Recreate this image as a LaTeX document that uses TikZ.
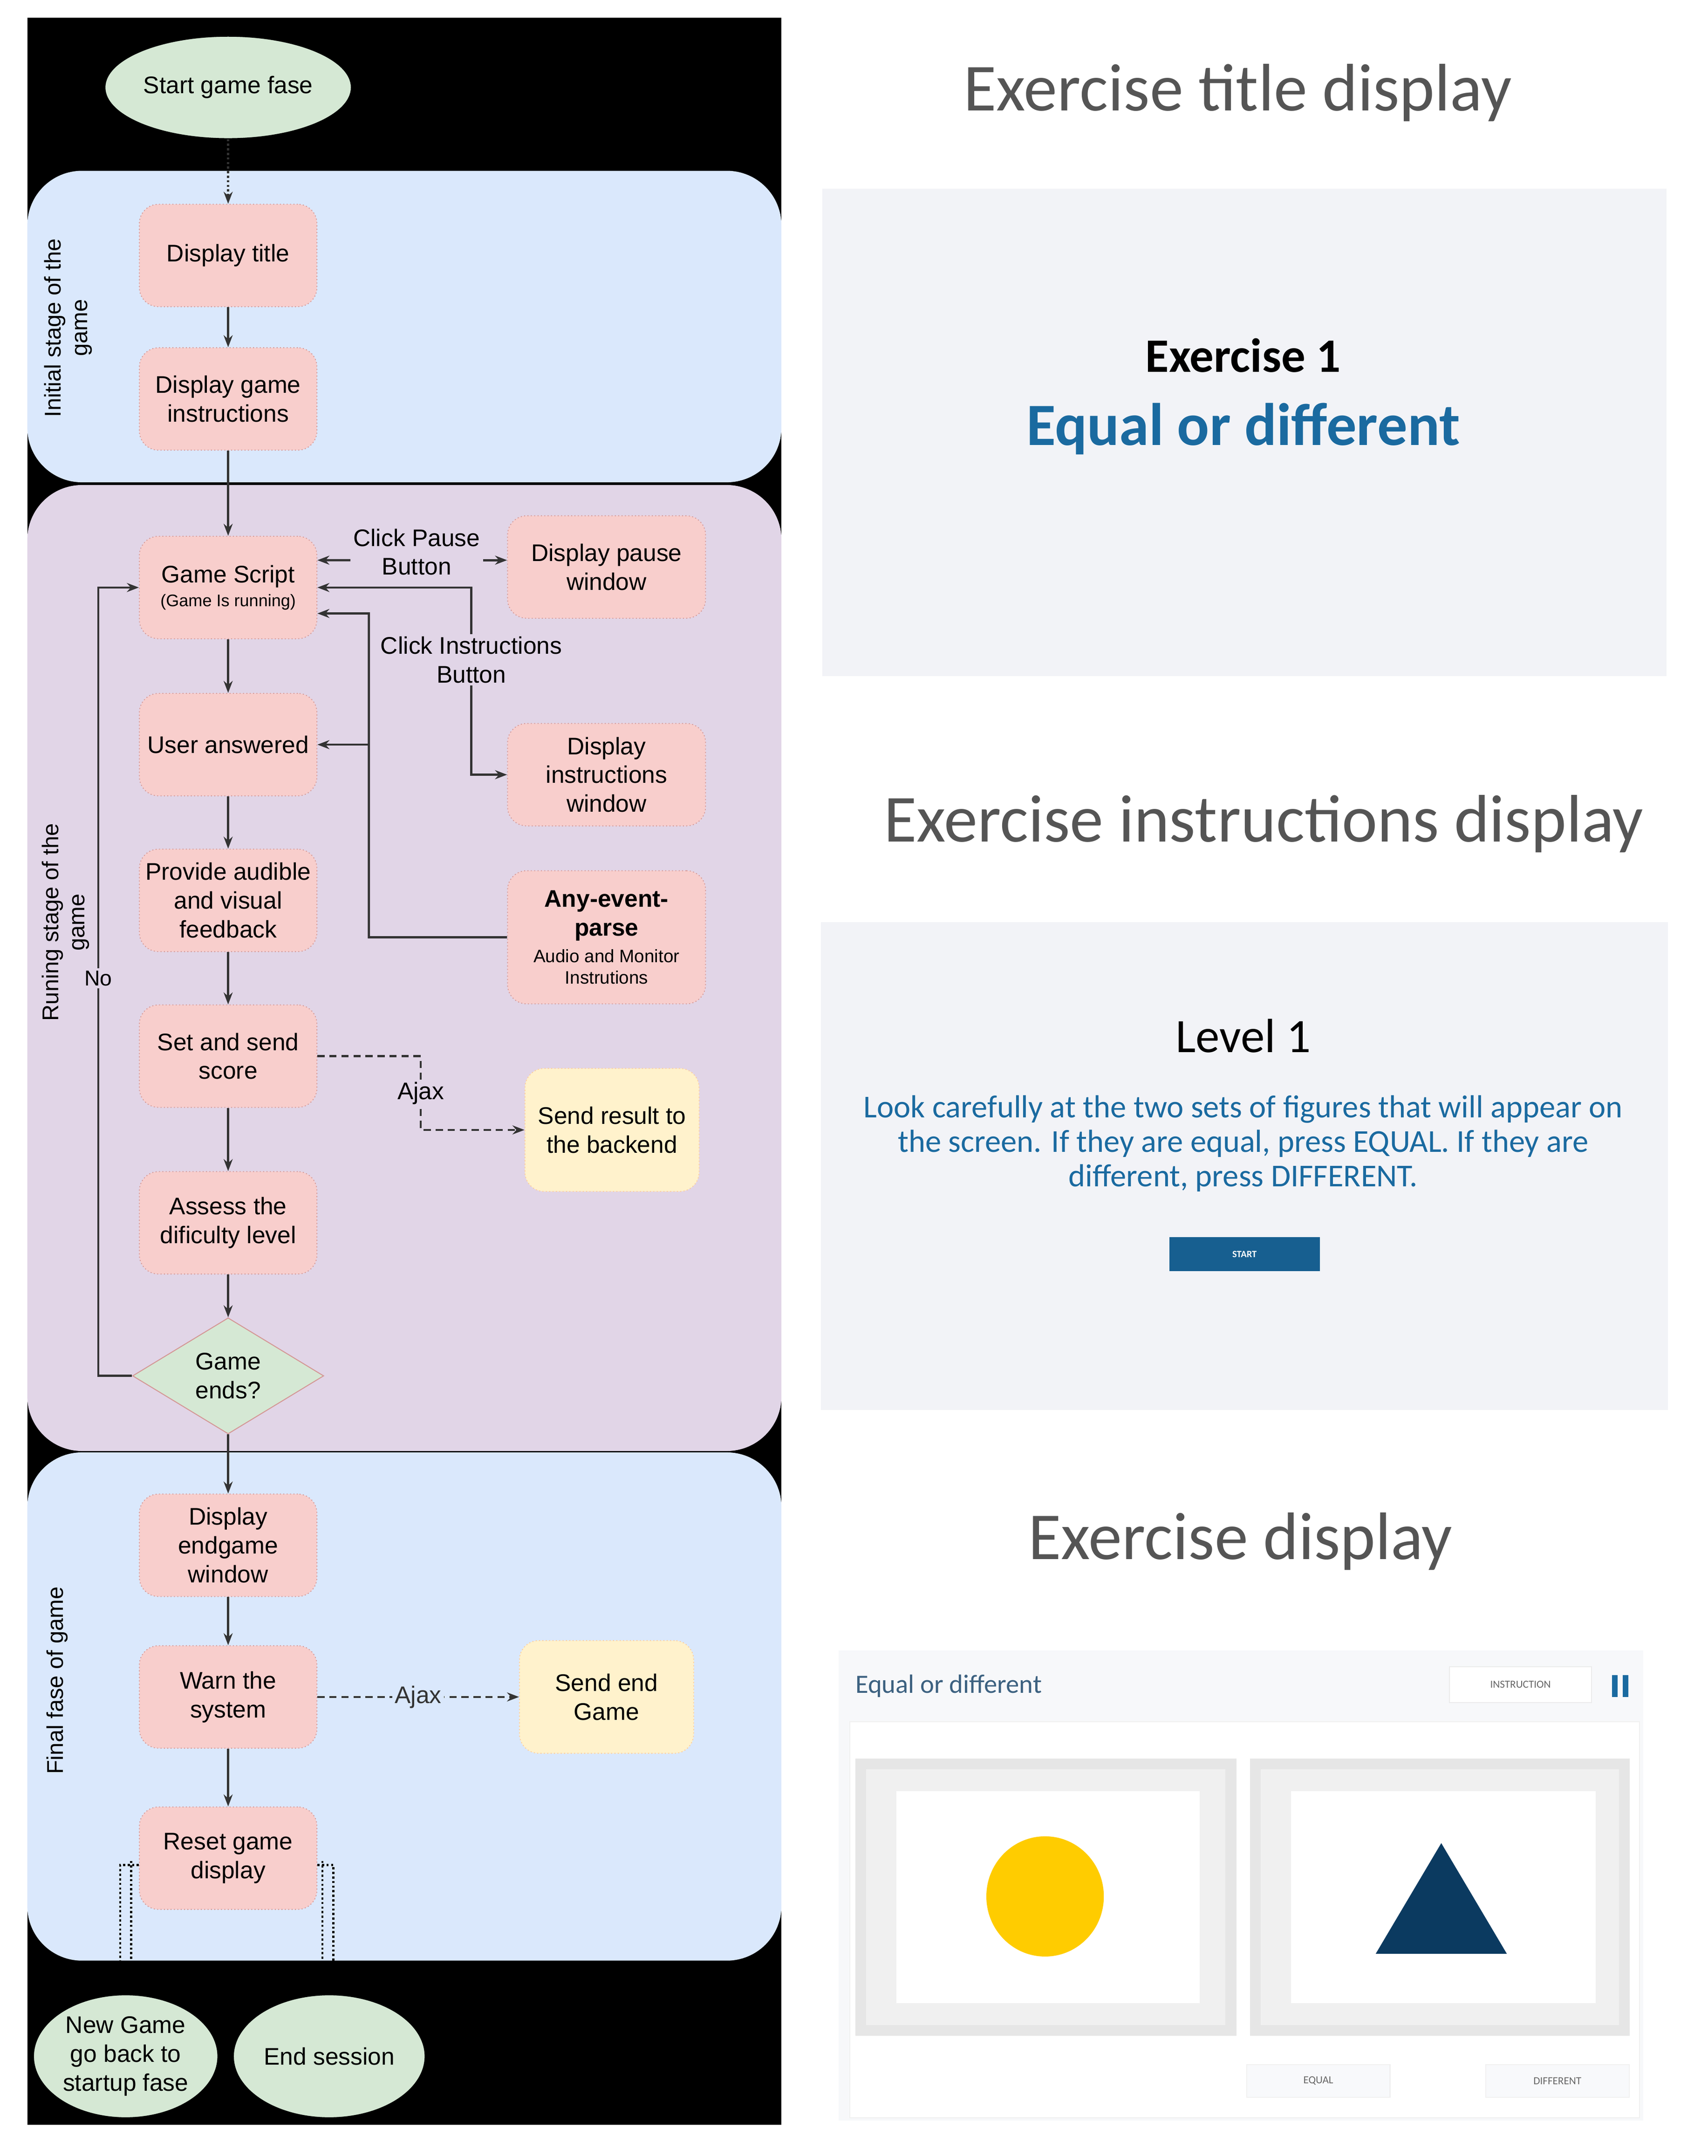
\documentclass[tikz,border=0pt]{standalone}
\usepackage{fontspec}
\setmainfont{Liberation Sans}
\newfontfamily\calfnt{Carlito}
\usetikzlibrary{shapes.geometric,arrows.meta}
\definecolor{pinkf}{HTML}{F8CECC}
\definecolor{pinkd}{HTML}{B85450}
\definecolor{greenf}{HTML}{D5E8D4}
\definecolor{bluef}{HTML}{DAE8FC}
\definecolor{purpf}{HTML}{E1D5E7}
\definecolor{yelf}{HTML}{FFF2CC}
\definecolor{paneg}{HTML}{F2F3F7}
\definecolor{ttlg}{HTML}{555555}
\definecolor{eqblue}{HTML}{1A6AA0}
\definecolor{navy}{HTML}{0B3A60}
\definecolor{frameg}{HTML}{E6E6E6}
\definecolor{circy}{HTML}{FFCC00}
\tikzset{
 box/.style={draw=pinkd!60,densely dotted,fill=pinkf,rounded corners=8pt,minimum width=2.6cm,minimum height=1.5cm,align=center,font=\fontsize{10}{12}\selectfont,inner sep=2pt},
 rbox/.style={box,minimum width=2.9cm},
 ybox/.style={rbox,fill=yelf,draw=orange!40,minimum width=2.55cm},
 term/.style={ellipse,draw=black,fill=greenf,minimum width=2.9cm,minimum height=1.5cm,align=center,font=\fontsize{10}{12}\selectfont,inner sep=1pt},
 panel/.style={rounded corners=0.8cm},
 arr/.style={-{Stealth[length=5pt]},line width=0.9pt,black!80},
 dsh/.style={arr,densely dashed},
 lane/.style={rotate=90,align=center,font=\fontsize{9.5}{11}\selectfont},
 big/.style={font=\calfnt\fontsize{28}{30}\selectfont,text=ttlg},
 lbl/.style={font=\fontsize{10}{12}\selectfont,align=center,fill=purpf,inner sep=1pt}
}
\begin{document}
\begin{tikzpicture}[x=0.02cm,y=-0.02cm]
\useasboundingbox[fill=white] (0,0) rectangle (1250,1578);
\fill[black] (20,13) rectangle (572,1555);
\fill[bluef,panel] (20,125) rectangle (572,353);
\fill[purpf,panel] (20,355) rectangle (572,1062);
\fill[bluef,panel] (20,1063) rectangle (572,1435);
\node[lane] at (50,240) {Initial stage of the\\game};
\node[lane] at (48,675) {Runing stage of the\\game};
\node[lane] at (42,1230) {Final fase of game};
\node[term] (start) at (167,64) {Start game fase};
\node[box] (dt) at (167,187) {Display title};
\node[box] (dgi) at (167,292) {Display game\\instructions};
\node[box] (gs) at (167,430) {Game Script\\[-2pt]{\fontsize{7}{8}\selectfont(Game Is running)}};
\node[box] (ua) at (167,545) {User answered};
\node[box] (pf) at (167,659) {Provide audible\\and visual\\feedback};
\node[box] (ss) at (167,773) {Set and send\\score};
\node[box] (ad) at (167,895) {Assess the\\dificulty level};
\node[diamond,draw=pinkd!60,fill=greenf,minimum width=2.8cm,minimum height=1.7cm,aspect=1.7,inner sep=0pt,align=center,font=\fontsize{10}{12}\selectfont] (ge) at (167,1007) {Game\\ends?};
\node[box] (de) at (167,1131) {Display\\endgame\\window};
\node[box] (ws) at (167,1242) {Warn the\\system};
\node[box] (rg) at (167,1360) {Reset game\\display};
\node[rbox] (pw) at (444,415) {Display pause\\window};
\node[rbox] (iw) at (444,567) {Display\\instructions\\window};
\node[rbox,minimum height=1.95cm] (ae) at (444,686) {\textbf{Any-event-}\\\textbf{parse}\\[-1pt]{\fontsize{7.5}{9}\selectfont Audio and Monitor}\\[-3pt]{\fontsize{7.5}{9}\selectfont Instrutions}};
\node[ybox,minimum height=1.8cm] (sr) at (448,827) {Send result to\\the backend};
\node[ybox,minimum height=1.65cm] (se) at (444,1242) {Send end\\Game};
\node[term,minimum width=2.7cm,minimum height=1.8cm] (ng) at (92,1505) {New Game\\go back to\\startup fase};
\node[term,minimum width=2.7cm,minimum height=1.8cm] (es) at (241,1505) {End session};
\draw[arr,densely dotted] (start) -- (dt);
\draw[arr] (dt) -- (dgi);
\draw[arr] (dgi) -- (gs);
\draw[arr] (gs) -- (ua);
\draw[arr] (ua) -- (pf);
\draw[arr] (pf) -- (ss);
\draw[arr] (ss) -- (ad);
\draw[arr] (ad) -- (ge);
\draw[arr] (ge) -- (de);
\draw[arr] (de) -- (ws);
\draw[arr] (ws) -- (rg);
\node[lbl] (cp) at (305,404) {Click Pause\\Button};
\draw[arr] ([yshift=-0.12cm]cp.west) -- ([yshift=0.4cm]gs.east);
\draw[arr] ([yshift=-0.12cm]cp.east) -- ([yshift=-0.12cm]cp.east -| pw.west);
\coordinate (k1) at (345,430);
\coordinate (k2) at (345,567);
\draw[arr,{Stealth[length=5pt]}-{Stealth[length=5pt]}] (gs.east) -- (k1) -- (k2) -- (iw.west);
\node[lbl] at (345,483) {Click Instructions\\Button};
\coordinate (a1) at (270,686);
\coordinate (a2) at (270,449);
\coordinate (a3) at (270,545);
\draw[arr] (ae.west) -- (a1) -- (a2) -- ([yshift=-0.38cm]gs.east);
\draw[arr] (a3) -- (ua.east);
\coordinate (n1) at (72,1007);
\coordinate (n2) at (72,430);
\draw[arr] (ge.west) -- (n1) -- (n2) -- (gs.west);
\node[lbl,font=\fontsize{9}{10}\selectfont] at (72,716) {No};
\coordinate (j1) at (308,773);
\coordinate (j2) at (308,827);
\draw[dsh] (ss.east) -- (j1) -- (j2) -- (sr.west);
\node[lbl] at (308,800) {Ajax};
\draw[dsh] (ws.east) -- node[fill=bluef,inner sep=1pt,font=\fontsize{10}{12}\selectfont]{Ajax} (se.west);
\draw[densely dotted,line width=0.9pt] ([yshift=-0.1cm]rg.west) -| (88,1440);
\draw[densely dotted,line width=0.9pt] (96,1362) -- (96,1440);
\draw[densely dotted,line width=0.9pt] ([yshift=-0.1cm]rg.east) -| (244,1440);
\draw[densely dotted,line width=0.9pt] (236,1362) -- (236,1440);
% right side
\node[big] (t1) at (906,68) {Exercise title display};
\fill[paneg] (602,138) rectangle (1220,495);
\node[font=\calfnt\bfseries\fontsize{20}{22}\selectfont] (e1) at (910,260) {Exercise 1};
\node[font=\calfnt\bfseries\fontsize{25}{27}\selectfont,text=eqblue] (e2) at (910,314) {Equal or different};
\node[big] (t2) at (925,603) {Exercise instructions display};
\fill[paneg] (601,675) rectangle (1221,1032);
\node[font=\calfnt\fontsize{20}{22}\selectfont] (lv) at (910,758) {Level 1};
\node[font=\calfnt\fontsize{13.3}{14.3}\selectfont,text=eqblue,align=center] (para) at (910,837) {Look carefully at the two sets of figures that will appear on\\the screen. If they are equal, press EQUAL. If they are\\different, press DIFFERENT.};
\node[fill=eqblue!90!black,minimum width=2.2cm,minimum height=0.5cm,text=white,font=\calfnt\fontsize{4}{5}\selectfont\bfseries,inner sep=0] (stb) at (911,918) {START};
\node[big] (t3) at (908,1128) {Exercise display};
\fill[paneg!60] (614,1208) rectangle (1203,1552);
\node[font=\calfnt\fontsize{11}{12}\selectfont,text=navy!80,anchor=west] (hd) at (620,1234) {Equal or different};
\node[fill=white,draw=black!8,minimum width=2.08cm,minimum height=0.52cm,font=\calfnt\fontsize{4.5}{5}\selectfont,text=black!60,inner sep=0] (ib) at (1113,1233) {INSTRUCTION};
\fill[eqblue] (1180,1226) rectangle (1184,1242);
\fill[eqblue] (1188,1226) rectangle (1192,1242);
\filldraw[fill=white,draw=black!6] (622,1260) rectangle (1200,1550);
\fill[frameg] (626,1287) rectangle (905,1490);
\fill[frameg] (915,1287) rectangle (1193,1490);
\fill[frameg!60] (634,1295) rectangle (897,1482);
\fill[frameg!60] (923,1295) rectangle (1185,1482);
\fill[white] (656,1311) rectangle (878,1466);
\fill[white] (945,1311) rectangle (1168,1466);
\fill[circy] (765,1388) ellipse [x radius=43, y radius=44];
\fill[navy] (1055,1349) -- (1103,1430) -- (1007,1430) -- cycle;
\node[fill=paneg!50,draw=black!6,minimum width=2.1cm,minimum height=0.48cm,font=\calfnt\fontsize{4.5}{5}\selectfont,text=black!60,inner sep=0] (eqb) at (965,1523) {EQUAL};
\node[fill=paneg!50,draw=black!6,minimum width=2.1cm,minimum height=0.48cm,font=\calfnt\fontsize{4.5}{5}\selectfont,text=black!60,inner sep=0] (dfb) at (1140,1523) {DIFFERENT};
\end{tikzpicture}
\end{document}
